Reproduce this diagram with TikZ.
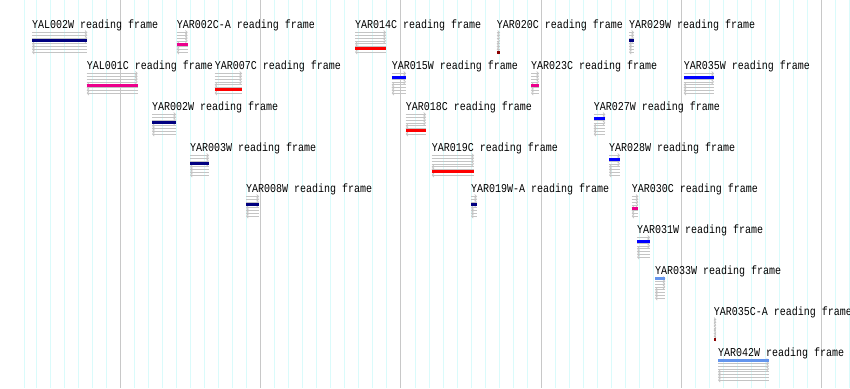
\documentclass[tikz,border=0pt]{standalone}
\usepackage{fontspec}
\usetikzlibrary{arrows.meta}
\newfontfamily\gbfont[FakeStretch=0.833]{Liberation Mono}
\definecolor{gridcyan}{RGB}{218,251,251}
\definecolor{gridgray}{RGB}{200,200,200}
\definecolor{framegray}{RGB}{196,196,196}
\definecolor{navy}{RGB}{0,0,128}
\definecolor{cornflower}{RGB}{100,149,237}
\definecolor{darkred}{RGB}{139,0,0}
\tikzset{
  lbl/.style={anchor=base west,inner sep=0pt,font=\gbfont\fontsize{12pt}{12pt}\selectfont},
  fwd/.style={framegray,line width=0.7pt,-{Straight Barb[length=1.8pt,width=4pt]}},
  rev/.style={framegray,line width=0.7pt,{Straight Barb[length=1.8pt,width=4pt]}-}
}
% start, end, baseline, frame row (1..6), colour, name
\newcommand{\readingframe}[6]{%
  \node[lbl] (#6) at (#1,#3) {#6 reading frame};
  \foreach \r in {0,1,2,3} \draw[fwd] (#1,#3+4.5+2.8*\r) -- (#2,#3+4.5+2.8*\r);
  \foreach \r in {4,5,6,7} \draw[rev] (#1,#3+4.5+2.8*\r) -- (#2,#3+4.5+2.8*\r);
  \fill[#5] (#1,#3+4*#4-1.5) rectangle (#2,#3+4*#4+1.5);
}
\begin{document}
\begin{tikzpicture}[x=1pt,y=-1pt]
  \useasboundingbox[fill=white] (0,0) rectangle (850,388);
  % grid
  \draw[gridcyan,line width=1pt] (24.3,0) -- (24.3,388);
  \foreach \k in {0,...,58}
    \draw[gridcyan,line width=1pt] (36.2+14.03*\k,0) -- (36.2+14.03*\k,388);
  \foreach \k in {0,...,5}
    \draw[gridgray,line width=1pt] (120.3+140.3*\k,0) -- (120.3+140.3*\k,388);
  % features
  \readingframe{32}{87.3}{28}{3}{navy}{YAL002W}
  \readingframe{176.7}{187.7}{28}{4}{magenta}{YAR002C-A}
  \readingframe{355}{386}{28}{5}{red}{YAR014C}
  \readingframe{496.7}{500}{28}{6}{darkred}{YAR020C}
  \readingframe{629}{634}{28}{3}{navy}{YAR029W}
  \readingframe{86.7}{137.7}{69}{4}{magenta}{YAL001C}
  \readingframe{214.7}{242}{69}{5}{red}{YAR007C}
  \readingframe{391.7}{406}{69}{2}{blue}{YAR015W}
  \readingframe{531}{539}{69}{4}{magenta}{YAR023C}
  \readingframe{683.7}{714}{69}{2}{blue}{YAR035W}
  \readingframe{152}{176}{110}{3}{navy}{YAR002W}
  \readingframe{405.7}{426}{110}{5}{red}{YAR018C}
  \readingframe{593.7}{605.3}{110}{2}{blue}{YAR027W}
  \readingframe{190}{209}{151}{3}{navy}{YAR003W}
  \readingframe{431.7}{474}{151}{5}{red}{YAR019C}
  \readingframe{609}{620}{151}{2}{blue}{YAR028W}
  \readingframe{246}{259}{192}{3}{navy}{YAR008W}
  \readingframe{471}{477}{192}{3}{navy}{YAR019W-A}
  \readingframe{631.7}{638.3}{192}{4}{magenta}{YAR030C}
  \readingframe{637}{650}{233}{2}{blue}{YAR031W}
  \readingframe{655}{665.3}{274}{1}{cornflower}{YAR033W}
  \readingframe{713.7}{716.3}{315}{6}{darkred}{YAR035C-A}
  \readingframe{718}{769}{356}{1}{cornflower}{YAR042W}
\end{tikzpicture}
\end{document}
